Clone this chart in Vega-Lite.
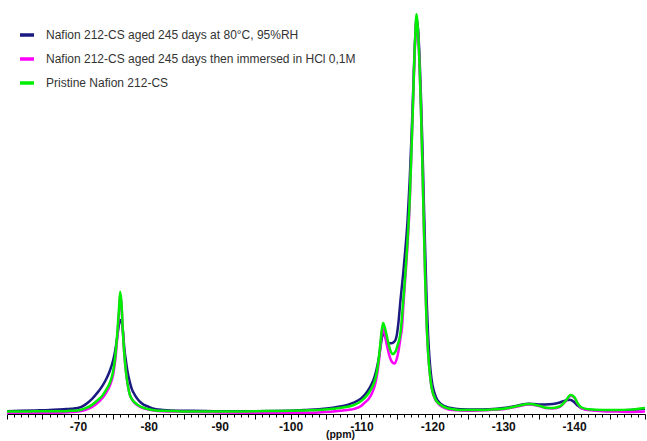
{
  "$schema": "https://vega.github.io/schema/vega-lite/v6.json",
  "autosize": "none",
  "width": 638,
  "height": 409,
  "padding": {"left": 7, "top": 5, "right": 2, "bottom": 27},
  "background": "white",
  "config": {"view": {"stroke": null}},
  "datasets": {
    "aged": [
      {"ppm": -60, "intensity": 0.2}, {"ppm": -62, "intensity": 0.3}, {"ppm": -64, "intensity": 0.4}, {"ppm": -66, "intensity": 0.5},
      {"ppm": -68, "intensity": 0.7}, {"ppm": -69, "intensity": 0.8}, {"ppm": -70, "intensity": 1.0}, {"ppm": -71, "intensity": 1.8},
      {"ppm": -72, "intensity": 3.3}, {"ppm": -72.5, "intensity": 4.3}, {"ppm": -73, "intensity": 5.4}, {"ppm": -73.5, "intensity": 6.7},
      {"ppm": -74, "intensity": 8.3}, {"ppm": -74.5, "intensity": 10.3}, {"ppm": -75, "intensity": 13.2}, {"ppm": -75.3, "intensity": 15.8},
      {"ppm": -75.6, "intensity": 19.5}, {"ppm": -75.8, "intensity": 22}, {"ppm": -75.96, "intensity": 23.1}, {"ppm": -76.15, "intensity": 22.8},
      {"ppm": -76.35, "intensity": 20.5}, {"ppm": -76.55, "intensity": 16}, {"ppm": -76.8, "intensity": 12.6}, {"ppm": -77, "intensity": 10.2},
      {"ppm": -77.3, "intensity": 7.7}, {"ppm": -77.6, "intensity": 5.8}, {"ppm": -78, "intensity": 4.4}, {"ppm": -78.5, "intensity": 3.1},
      {"ppm": -79, "intensity": 2.2}, {"ppm": -80, "intensity": 1.3}, {"ppm": -81, "intensity": 0.7}, {"ppm": -82, "intensity": 0.5},
      {"ppm": -84, "intensity": 0.3}, {"ppm": -86, "intensity": 0.3}, {"ppm": -90, "intensity": 0.2}, {"ppm": -95, "intensity": 0.2},
      {"ppm": -100, "intensity": 0.3}, {"ppm": -102, "intensity": 0.5}, {"ppm": -104, "intensity": 0.7}, {"ppm": -106, "intensity": 1.1},
      {"ppm": -107, "intensity": 1.4}, {"ppm": -108, "intensity": 1.8}, {"ppm": -109, "intensity": 2.4}, {"ppm": -110, "intensity": 3.5},
      {"ppm": -110.5, "intensity": 4.4}, {"ppm": -111, "intensity": 5.6}, {"ppm": -111.5, "intensity": 7.3}, {"ppm": -111.8, "intensity": 8.6},
      {"ppm": -112.1, "intensity": 10.5}, {"ppm": -112.4, "intensity": 13}, {"ppm": -112.7, "intensity": 16.5}, {"ppm": -112.9, "intensity": 18.8},
      {"ppm": -113.06, "intensity": 19.8}, {"ppm": -113.3, "intensity": 19.2}, {"ppm": -113.6, "intensity": 17.9}, {"ppm": -113.9, "intensity": 17.3},
      {"ppm": -114.2, "intensity": 17.3}, {"ppm": -114.5, "intensity": 17.5}, {"ppm": -114.8, "intensity": 18.1}, {"ppm": -115, "intensity": 19.5},
      {"ppm": -115.25, "intensity": 23}, {"ppm": -115.5, "intensity": 28}, {"ppm": -115.9, "intensity": 35}, {"ppm": -116.2, "intensity": 41},
      {"ppm": -116.5, "intensity": 48}, {"ppm": -116.8, "intensity": 58}, {"ppm": -117.1, "intensity": 71}, {"ppm": -117.3, "intensity": 81},
      {"ppm": -117.5, "intensity": 91}, {"ppm": -117.65, "intensity": 96}, {"ppm": -117.75, "intensity": 99}, {"ppm": -118, "intensity": 96},
      {"ppm": -118.2, "intensity": 89}, {"ppm": -118.4, "intensity": 79}, {"ppm": -118.6, "intensity": 67}, {"ppm": -118.8, "intensity": 53},
      {"ppm": -119, "intensity": 40}, {"ppm": -119.2, "intensity": 28}, {"ppm": -119.4, "intensity": 19.5}, {"ppm": -119.6, "intensity": 13.5},
      {"ppm": -119.8, "intensity": 9.5}, {"ppm": -120, "intensity": 7}, {"ppm": -120.3, "intensity": 4.8}, {"ppm": -120.6, "intensity": 3.4},
      {"ppm": -121, "intensity": 2.4}, {"ppm": -121.5, "intensity": 1.7}, {"ppm": -122, "intensity": 1.3}, {"ppm": -123, "intensity": 0.9},
      {"ppm": -124, "intensity": 0.7}, {"ppm": -126, "intensity": 0.6}, {"ppm": -128, "intensity": 0.7}, {"ppm": -130, "intensity": 1.0},
      {"ppm": -132, "intensity": 1.6}, {"ppm": -133.6, "intensity": 2.1}, {"ppm": -135, "intensity": 1.9}, {"ppm": -136, "intensity": 1.9},
      {"ppm": -137, "intensity": 2.0}, {"ppm": -138, "intensity": 2.4}, {"ppm": -138.8, "intensity": 2.9}, {"ppm": -139.4, "intensity": 3.1},
      {"ppm": -140, "intensity": 2.5}, {"ppm": -140.5, "intensity": 1.6}, {"ppm": -141, "intensity": 1.0}, {"ppm": -142, "intensity": 0.6},
      {"ppm": -144, "intensity": 0.4}, {"ppm": -146, "intensity": 0.4}, {"ppm": -148, "intensity": 0.5}, {"ppm": -150, "intensity": 0.8}
    ],
    "immersed": [
      {"ppm": -60, "intensity": -0.3}, {"ppm": -62, "intensity": -0.3}, {"ppm": -64, "intensity": -0.2}, {"ppm": -66, "intensity": -0.2},
      {"ppm": -68, "intensity": -0.1}, {"ppm": -69, "intensity": 0}, {"ppm": -70, "intensity": 0.1}, {"ppm": -71, "intensity": 0.5},
      {"ppm": -72, "intensity": 1.3}, {"ppm": -72.5, "intensity": 1.9}, {"ppm": -73, "intensity": 2.7}, {"ppm": -73.5, "intensity": 3.6},
      {"ppm": -74, "intensity": 4.9}, {"ppm": -74.5, "intensity": 6.6}, {"ppm": -75, "intensity": 9.6}, {"ppm": -75.3, "intensity": 13.5},
      {"ppm": -75.6, "intensity": 19.8}, {"ppm": -75.8, "intensity": 25}, {"ppm": -75.96, "intensity": 29.2}, {"ppm": -76.15, "intensity": 27},
      {"ppm": -76.35, "intensity": 20}, {"ppm": -76.55, "intensity": 14.5}, {"ppm": -76.8, "intensity": 9.8}, {"ppm": -77, "intensity": 7.2},
      {"ppm": -77.3, "intensity": 4.5}, {"ppm": -77.6, "intensity": 3.3}, {"ppm": -78, "intensity": 2.3}, {"ppm": -78.5, "intensity": 1.6},
      {"ppm": -79, "intensity": 1.1}, {"ppm": -80, "intensity": 0.6}, {"ppm": -81, "intensity": 0.3}, {"ppm": -82, "intensity": 0.2},
      {"ppm": -84, "intensity": 0.1}, {"ppm": -86, "intensity": 0}, {"ppm": -90, "intensity": -0.1}, {"ppm": -95, "intensity": -0.2},
      {"ppm": -100, "intensity": -0.3}, {"ppm": -102, "intensity": -0.2}, {"ppm": -104, "intensity": -0.1}, {"ppm": -106, "intensity": 0.1},
      {"ppm": -107, "intensity": 0.3}, {"ppm": -108, "intensity": 0.5}, {"ppm": -109, "intensity": 0.8}, {"ppm": -110, "intensity": 1.6},
      {"ppm": -110.5, "intensity": 2.4}, {"ppm": -111, "intensity": 3.3}, {"ppm": -111.5, "intensity": 4.8}, {"ppm": -112, "intensity": 7.5},
      {"ppm": -112.3, "intensity": 10.5}, {"ppm": -112.6, "intensity": 15}, {"ppm": -112.8, "intensity": 18.8}, {"ppm": -112.96, "intensity": 21},
      {"ppm": -113.2, "intensity": 20.2}, {"ppm": -113.5, "intensity": 17.5}, {"ppm": -113.9, "intensity": 14.4}, {"ppm": -114.3, "intensity": 12.6},
      {"ppm": -114.65, "intensity": 12.2}, {"ppm": -115, "intensity": 13.5}, {"ppm": -115.25, "intensity": 15.6}, {"ppm": -115.5, "intensity": 18.5},
      {"ppm": -115.73, "intensity": 21.4}, {"ppm": -115.96, "intensity": 28}, {"ppm": -116.2, "intensity": 34}, {"ppm": -116.5, "intensity": 42},
      {"ppm": -116.8, "intensity": 52}, {"ppm": -117.1, "intensity": 68}, {"ppm": -117.3, "intensity": 79}, {"ppm": -117.5, "intensity": 90},
      {"ppm": -117.65, "intensity": 96}, {"ppm": -117.75, "intensity": 99}, {"ppm": -118, "intensity": 95}, {"ppm": -118.2, "intensity": 87},
      {"ppm": -118.4, "intensity": 76}, {"ppm": -118.6, "intensity": 62}, {"ppm": -118.8, "intensity": 47}, {"ppm": -119, "intensity": 33},
      {"ppm": -119.2, "intensity": 22}, {"ppm": -119.4, "intensity": 15}, {"ppm": -119.6, "intensity": 10.5}, {"ppm": -119.8, "intensity": 7.3},
      {"ppm": -120, "intensity": 5.3}, {"ppm": -120.3, "intensity": 3.6}, {"ppm": -120.6, "intensity": 2.6}, {"ppm": -121, "intensity": 1.8},
      {"ppm": -121.5, "intensity": 1.2}, {"ppm": -122, "intensity": 0.8}, {"ppm": -123, "intensity": 0.5}, {"ppm": -124, "intensity": 0.4},
      {"ppm": -126, "intensity": 0.3}, {"ppm": -128, "intensity": 0.5}, {"ppm": -130, "intensity": 0.7}, {"ppm": -132, "intensity": 1.4},
      {"ppm": -133.6, "intensity": 1.9}, {"ppm": -135, "intensity": 1.5}, {"ppm": -136, "intensity": 1.0}, {"ppm": -137, "intensity": 0.9},
      {"ppm": -138, "intensity": 1.3}, {"ppm": -138.8, "intensity": 2.7}, {"ppm": -139.5, "intensity": 4.1}, {"ppm": -140, "intensity": 3.7},
      {"ppm": -140.5, "intensity": 2.1}, {"ppm": -141, "intensity": 1.0}, {"ppm": -142, "intensity": 0.5}, {"ppm": -144, "intensity": 0.2},
      {"ppm": -146, "intensity": 0.1}, {"ppm": -148, "intensity": 0}, {"ppm": -150, "intensity": 0.1}
    ],
    "pristine": [
      {"ppm": -60, "intensity": 0.1}, {"ppm": -62, "intensity": 0.1}, {"ppm": -64, "intensity": 0.2}, {"ppm": -66, "intensity": 0.2},
      {"ppm": -68, "intensity": 0.2}, {"ppm": -69, "intensity": 0.3}, {"ppm": -70, "intensity": 0.4}, {"ppm": -71, "intensity": 0.9},
      {"ppm": -72, "intensity": 1.8}, {"ppm": -72.5, "intensity": 2.5}, {"ppm": -73, "intensity": 3.3}, {"ppm": -73.5, "intensity": 4.2},
      {"ppm": -74, "intensity": 5.6}, {"ppm": -74.5, "intensity": 7.3}, {"ppm": -75, "intensity": 10.5}, {"ppm": -75.3, "intensity": 14.5},
      {"ppm": -75.6, "intensity": 20.8}, {"ppm": -75.8, "intensity": 26}, {"ppm": -75.96, "intensity": 30.2}, {"ppm": -76.15, "intensity": 27.3},
      {"ppm": -76.35, "intensity": 20}, {"ppm": -76.55, "intensity": 14.5}, {"ppm": -76.8, "intensity": 9.8}, {"ppm": -77, "intensity": 7.2},
      {"ppm": -77.3, "intensity": 4.5}, {"ppm": -77.6, "intensity": 3.3}, {"ppm": -78, "intensity": 2.4}, {"ppm": -78.5, "intensity": 1.7},
      {"ppm": -79, "intensity": 1.2}, {"ppm": -80, "intensity": 0.7}, {"ppm": -81, "intensity": 0.4}, {"ppm": -82, "intensity": 0.3},
      {"ppm": -84, "intensity": 0.2}, {"ppm": -86, "intensity": 0.1}, {"ppm": -90, "intensity": 0.1}, {"ppm": -95, "intensity": 0.2},
      {"ppm": -100, "intensity": 0.3}, {"ppm": -102, "intensity": 0.4}, {"ppm": -104, "intensity": 0.5}, {"ppm": -106, "intensity": 0.8},
      {"ppm": -107, "intensity": 1.0}, {"ppm": -108, "intensity": 1.3}, {"ppm": -109, "intensity": 1.8}, {"ppm": -110, "intensity": 2.8},
      {"ppm": -110.5, "intensity": 3.6}, {"ppm": -111, "intensity": 4.7}, {"ppm": -111.5, "intensity": 6.2}, {"ppm": -112, "intensity": 8.6},
      {"ppm": -112.3, "intensity": 11.5}, {"ppm": -112.6, "intensity": 16}, {"ppm": -112.8, "intensity": 19.6}, {"ppm": -113.05, "intensity": 22.4},
      {"ppm": -113.3, "intensity": 21.2}, {"ppm": -113.6, "intensity": 18.9}, {"ppm": -114, "intensity": 15.9}, {"ppm": -114.4, "intensity": 14.6},
      {"ppm": -114.8, "intensity": 15.2}, {"ppm": -115.1, "intensity": 16.8}, {"ppm": -115.5, "intensity": 19.8}, {"ppm": -115.7, "intensity": 23.5},
      {"ppm": -115.9, "intensity": 28}, {"ppm": -116.2, "intensity": 35}, {"ppm": -116.5, "intensity": 43}, {"ppm": -116.8, "intensity": 53},
      {"ppm": -117.1, "intensity": 68}, {"ppm": -117.3, "intensity": 79}, {"ppm": -117.5, "intensity": 91}, {"ppm": -117.65, "intensity": 97},
      {"ppm": -117.75, "intensity": 100}, {"ppm": -118, "intensity": 95}, {"ppm": -118.2, "intensity": 87}, {"ppm": -118.4, "intensity": 76},
      {"ppm": -118.6, "intensity": 62}, {"ppm": -118.8, "intensity": 47}, {"ppm": -119, "intensity": 33}, {"ppm": -119.2, "intensity": 22},
      {"ppm": -119.4, "intensity": 15}, {"ppm": -119.6, "intensity": 10.5}, {"ppm": -119.8, "intensity": 7.3}, {"ppm": -120, "intensity": 5.3},
      {"ppm": -120.3, "intensity": 3.7}, {"ppm": -120.6, "intensity": 2.7}, {"ppm": -121, "intensity": 2.0}, {"ppm": -121.5, "intensity": 1.4},
      {"ppm": -122, "intensity": 1.0}, {"ppm": -123, "intensity": 0.7}, {"ppm": -124, "intensity": 0.5}, {"ppm": -126, "intensity": 0.5},
      {"ppm": -128, "intensity": 0.6}, {"ppm": -130, "intensity": 0.8}, {"ppm": -132, "intensity": 1.5}, {"ppm": -133.6, "intensity": 2.0},
      {"ppm": -135, "intensity": 1.6}, {"ppm": -136, "intensity": 1.1}, {"ppm": -137, "intensity": 1.0}, {"ppm": -138, "intensity": 1.4},
      {"ppm": -138.8, "intensity": 2.8}, {"ppm": -139.5, "intensity": 4.3}, {"ppm": -140, "intensity": 3.8}, {"ppm": -140.5, "intensity": 2.2},
      {"ppm": -141, "intensity": 1.2}, {"ppm": -142, "intensity": 0.7}, {"ppm": -144, "intensity": 0.5}, {"ppm": -146, "intensity": 0.5},
      {"ppm": -148, "intensity": 0.6}, {"ppm": -150, "intensity": 1.0}
    ]
  },
  "encoding": {
    "x": {
      "field": "ppm", "type": "quantitative",
      "scale": {"domain": [-150, -60], "reverse": true, "nice": false, "zero": false},
      "axis": {
        "values": [-60,-61,-62,-63,-64,-65,-66,-67,-68,-69,-70,-71,-72,-73,-74,-75,-76,-77,-78,-79,-80,-81,-82,-83,-84,-85,-86,-87,-88,-89,-90,-91,-92,-93,-94,-95,-96,-97,-98,-99,-100,-101,-102,-103,-104,-105,-106,-107,-108,-109,-110,-111,-112,-113,-114,-115,-116,-117,-118,-119,-120,-121,-122,-123,-124,-125,-126,-127,-128,-129,-130,-131,-132,-133,-134,-135,-136,-137,-138,-139,-140,-141,-142,-143,-144,-145,-146,-147,-148,-149,-150],
        "tickSize": {"condition": {"test": "datum.value % 5 === 0", "value": 5}, "value": 3},
        "labelExpr": "(datum.value % 10 === 0 && datum.value < -65 && datum.value > -145) ? toString(datum.value) : ''",
        "labelOverlap": false,
        "labelBound": false,
        "labelFlush": false,
        "labelFont": "Liberation Sans",
        "labelFontWeight": "bold",
        "labelFontSize": 12,
        "labelColor": "#111111",
        "labelPadding": 2,
        "domainColor": "#000000",
        "domainWidth": 1,
        "tickColor": "#000000",
        "tickWidth": 1,
        "grid": false,
        "title": "(ppm)",
        "titleFont": "Liberation Sans",
        "titleFontSize": 10.5,
        "titleFontWeight": "bold",
        "titleColor": "#111111",
        "titleX": 333,
        "titleY": 23.5,
        "titleAlign": "center",
        "titleBaseline": "alphabetic"
      }
    },
    "y": {
      "field": "intensity", "type": "quantitative",
      "scale": {"domain": [-0.5, 102.3], "nice": false, "zero": false},
      "axis": null
    },
    "color": {
      "scale": {
        "domain": ["Nafion 212-CS aged 245 days at 80°C, 95%RH", "Nafion 212-CS aged 245 days then immersed in HCl 0,1M", "Pristine Nafion 212-CS"],
        "range": ["#1a1a80", "#ff00ff", "#00ee00"]
      },
      "legend": {
        "orient": "none",
        "legendX": 11,
        "legendY": 21,
        "title": null,
        "symbolType": "stroke",
        "symbolSize": 196,
        "symbolStrokeWidth": 3.5,
        "labelFont": "Liberation Sans",
        "labelFontSize": 12,
        "labelColor": "#333333",
        "labelOffset": 10,
        "labelLimit": 400,
        "rowPadding": 8,
        "padding": 0
      }
    }
  },
  "layer": [
    {
      "data": {"name": "aged"},
      "mark": {"type": "line", "strokeWidth": 2.5, "interpolate": "monotone", "clip": true},
      "encoding": {"color": {"datum": "Nafion 212-CS aged 245 days at 80°C, 95%RH"}}
    },
    {
      "data": {"name": "immersed"},
      "mark": {"type": "line", "strokeWidth": 2.5, "interpolate": "monotone", "clip": true},
      "encoding": {"color": {"datum": "Nafion 212-CS aged 245 days then immersed in HCl 0,1M"}}
    },
    {
      "data": {"name": "pristine"},
      "mark": {"type": "line", "strokeWidth": 2.5, "interpolate": "monotone", "clip": true},
      "encoding": {"color": {"datum": "Pristine Nafion 212-CS"}}
    }
  ]
}
